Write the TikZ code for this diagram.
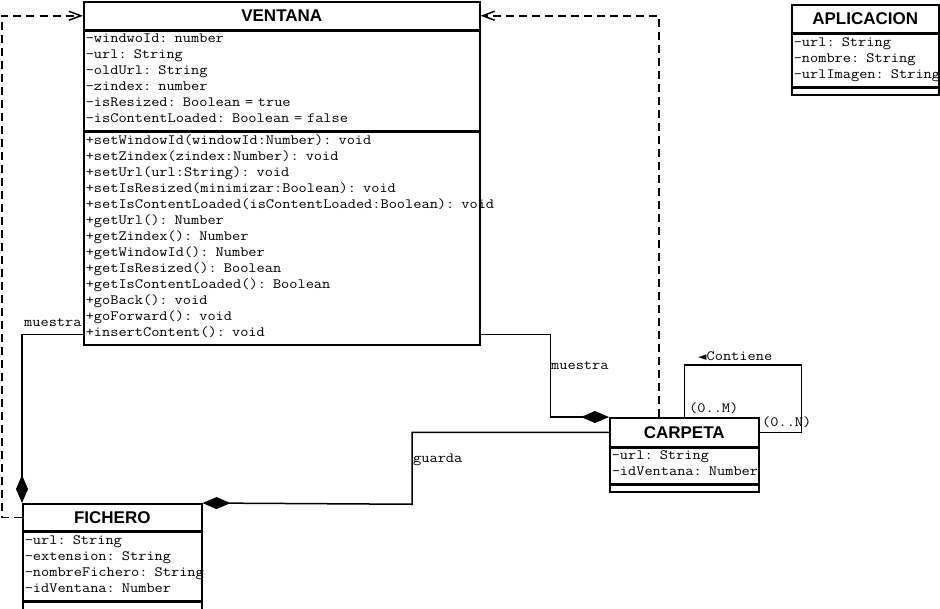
\documentclass[tikz,border=0pt]{standalone}
\usepackage{fontspec}
\setsansfont{Liberation Sans}
\newfontfamily\monofont[FakeStretch=1.12]{Latin Modern Mono}
\newfontfamily\symfont{DejaVu Sans}
\newcommand{\classfont}{\monofont\fontsize{14.2}{16}\selectfont}
\newcommand{\firststrut}{\rule{0pt}{10pt}}
\newcommand{\laststrut}{\rule[-6pt]{0pt}{6pt}}
\usepackage{tikz}
\usetikzlibrary{arrows.meta, positioning}

\begin{document}
\begin{tikzpicture}[
        x=1pt, y=-1pt,
        classname/.style={draw, line width=1.5pt, anchor=north west, inner sep=0pt,
            font=\sffamily\bfseries\fontsize{17}{19}\selectfont},
        empty/.style={draw, line width=1.5pt, anchor=north west, inner sep=0pt},
        members/.style={empty, inner xsep=2pt, align=left, font=\classfont,
            execute at begin node=\firststrut, execute at end node=\laststrut},
        dep/.style={line width=1.5pt, dash pattern=on 8pt off 5pt,
            -{Straight Barb[length=12pt, width=9pt]}},
        comp/.style={line width=1.5pt, -{Diamond[length=28pt, width=12pt]}},
        assoc/.style={line width=1.5pt},
        lbl/.style={inner sep=0pt, anchor=west, font=\classfont, text height=8pt, text depth=2pt}
    ]
        \useasboundingbox (0,0) rectangle (940,608);

        % VENTANA
        \node[classname, minimum width=396pt, minimum height=28pt] (ventana) at (83,1) {VENTANA};
        \node[members, text width=392pt, minimum height=99pt] (ventanaAttr) at (ventana.south west)
            {-windwoId: number\\
             -url: String\\
             -oldUrl: String\\
             -zindex: number\\
             -isResized: Boolean = true\\
             -isContentLoaded: Boolean = false};
        \node[members, text width=392pt, minimum height=213pt] (ventanaOps) at (ventanaAttr.south west)
            {+setWindowId(windowId:Number): void\\
             +setZindex(zindex:Number): void\\
             +setUrl(url:String): void\\
             +setIsResized(minimizar:Boolean): void\\
             \mbox{+setIsContentLoaded(isContentLoaded:Boolean): void}\\
             +getUrl(): Number\\
             +getZindex(): Number\\
             +getWindowId(): Number\\
             +getIsResized(): Boolean\\
             +getIsContentLoaded(): Boolean\\
             +goBack(): void\\
             +goForward(): void\\
             +insertContent(): void};

        % APLICACION
        \node[classname, minimum width=147pt, minimum height=28pt] (aplicacion) at (791,4) {APLICACION};
        \node[members, text width=143pt, minimum height=52pt] (aplicacionAttr) at (aplicacion.south west)
            {-url: String\\
             -nombre: String\\
             \mbox{-urlImagen: String}};
        \node[empty, minimum width=147pt, minimum height=7pt] (aplicacionOps) at (aplicacionAttr.south west) {};

        % CARPETA
        \node[classname, minimum width=149pt, minimum height=29pt] (carpeta) at (609,417) {CARPETA};
        \node[members, text width=145pt, minimum height=35pt] (carpetaAttr) at (carpeta.south west)
            {-url: String\\
             \mbox{-idVentana: Number}};
        \node[empty, minimum width=149pt, minimum height=7pt] (carpetaOps) at (carpetaAttr.south west) {};

        % FICHERO
        \node[classname, minimum width=179pt, minimum height=27pt] (fichero) at (22,503) {FICHERO};
        \node[members, text width=175pt, minimum height=68pt] (ficheroAttr) at (fichero.south west)
            {-url: String\\
             -extension: String\\
             \mbox{-nombreFichero: String}\\
             -idVentana: Number};
        \node[empty, minimum width=179pt, minimum height=8pt] (ficheroOps) at (ficheroAttr.south west) {};

        % dependencias hacia VENTANA
        \draw[dep] (fichero.west) -- ++(-20,0) |- (ventana.west);
        \draw[dep] ([xshift=-25.5pt]carpeta.north) |- (ventana.east);

        % composiciones
        \draw[comp] ([yshift=11pt]ventanaOps.south west) -| (fichero.north west);
        \draw[comp] ([yshift=11pt]ventanaOps.south east) -- ++(70,0) |- (carpeta.north west);
        \draw[comp] (carpeta.west) -| ++(-197,72) -- (fichero.north east);

        % Contiene (reflexiva)
        \draw[assoc] (carpeta.north) -- ++(0,-52) -| ([xshift=42pt]carpeta.east) -- (carpeta.east);

        % etiquetas
        \node[lbl] (muestraA) at (24,323) {muestra};
        \node[lbl] (muestraB) at (551,366) {muestra};
        \node[lbl] (guarda) at (413,459) {guarda};
        \node[lbl] (contiene) at (698,357) {{\symfont\fontsize{11}{11}\selectfont ◄}Contiene};
        \node[lbl] (multM) at (689,409) {(0..M)};
        \node[lbl] (multN) at (762,423) {(0..N)};
    \end{tikzpicture}
\end{document}
